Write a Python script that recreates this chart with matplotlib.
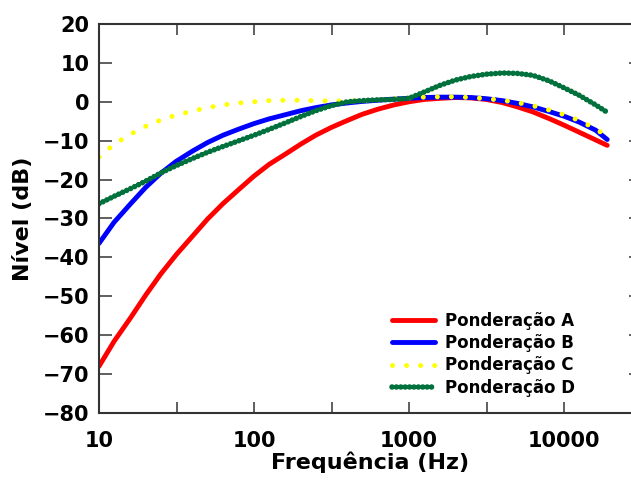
import matplotlib
matplotlib.use("Agg")
import matplotlib.pyplot as plt
from matplotlib.ticker import NullFormatter

# third-octave frequencies (Hz) and weighting levels (dB)
freq = [10, 12.5, 16, 20, 25, 31.5, 40, 50, 63, 80, 100, 125, 160, 200, 250,
        315, 400, 500, 630, 800, 1000, 1250, 1600, 2000, 2500, 3150, 4000,
        5000, 6300, 8000, 10000, 12500, 16000, 19000]
pond_a = [-68.0, -61.6, -55.5, -49.7, -44.3, -39.3, -34.6, -30.2, -26.2, -22.5,
          -19.1, -16.1, -13.4, -10.9, -8.6, -6.6, -4.8, -3.2, -1.9, -0.8,
          0.0, 0.6, 0.9, 1.1, 1.0, 0.6, -0.2, -1.3, -2.6, -4.3,
          -6.0, -7.8, -9.8, -11.2]
pond_b = [-36.4, -31.0, -26.2, -22.0, -18.4, -15.3, -12.7, -10.5, -8.6, -7.0,
          -5.6, -4.4, -3.3, -2.3, -1.5, -0.8, -0.3, 0.1, 0.4, 0.7,
          0.9, 1.1, 1.2, 1.2, 1.1, 0.8, 0.3, -0.4, -1.3, -2.5,
          -3.7, -5.2, -7.3, -9.7]
pond_c = [-14.2, -10.9, -8.3, -6.3, -4.7, -3.4, -2.4, -1.5, -0.8, -0.3,
          0.0, 0.3, 0.4, 0.4, 0.3, 0.2, 0.2, 0.3, 0.5, 0.8,
          1.0, 1.2, 1.3, 1.3, 1.1, 0.8, 0.4, -0.2, -1.0, -2.1,
          -3.3, -4.8, -6.9, -9.0]
pond_d = [-26.2, -24.3, -22.3, -20.4, -18.3, -16.4, -14.6, -13.0, -11.5, -10.0,
          -8.6, -7.1, -5.4, -3.8, -2.3, -1.0, 0.0, 0.3, 0.5, 0.6,
          0.9, 2.5, 4.3, 5.6, 6.5, 7.1, 7.4, 7.3, 6.8, 5.4,
          3.6, 1.7, -0.8, -2.7]

xticks = [10, 100, 1000, 10000]
xticklabels = ["10", "100", "1000", "10000"]
yticks = list(range(-80, 21, 10))

plt.rcParams['font.family'] = ['DejaVu Sans']
plt.rcParams['font.weight'] = 'bold'
plt.rcParams['axes.labelweight'] = 'bold'

fig = plt.figure(figsize=(6.31, 4.82), dpi=100)
ax = fig.add_axes([99/631, 1 - 413/482, 542.5/631, 389/482])

ax.plot(freq, pond_a, color='#ff0000', lw=3.5, solid_capstyle='round',
        label='Ponderação A')
ax.plot(freq, pond_b, color='#0000ff', lw=3.5, solid_capstyle='round',
        label='Ponderação B')
ax.plot(freq, pond_c, color='#ffff00', lw=3.6, dashes=(0.01, 2.8),
        dash_capstyle='round', label='Ponderação C')
ax.plot(freq, pond_d, color='#00703c', lw=4.0, dashes=(0.01, 0.78),
        dash_capstyle='round', label='Ponderação D')

ax.set_xscale('log')
ax.set_xlim(10, 10**4.5)
ax.set_ylim(-80, 20)
ax.set_xticks(xticks)
ax.set_xticklabels(xticklabels)
ax.set_xticks([10**1.5, 10**2.5, 10**3.5], minor=True)
ax.xaxis.set_minor_formatter(NullFormatter())
ax.set_yticks(yticks)

ax.tick_params(axis='x', which='both', direction='in', top=True, length=8,
               width=1.2, color='#444444', labelsize=15, pad=13)
ax.tick_params(axis='y', direction='in', right=True, length=9.5,
               width=1.2, color='#444444', labelsize=15, pad=7)
for sp in ax.spines.values():
    sp.set_linewidth(1.5)
    sp.set_color('#333333')

ax.set_xlabel('Frequência (Hz)', fontsize=16, labelpad=0)
ax.set_ylabel('Nível (dB)', fontsize=16, labelpad=7)

ax.legend(loc='lower left', bbox_to_anchor=(0.5395, 0.042), frameon=False,
          fontsize=12, borderpad=0, borderaxespad=0, handlelength=2.6,
          handletextpad=0.6, labelspacing=0.25)

fig.savefig('out.png', dpi=100)
